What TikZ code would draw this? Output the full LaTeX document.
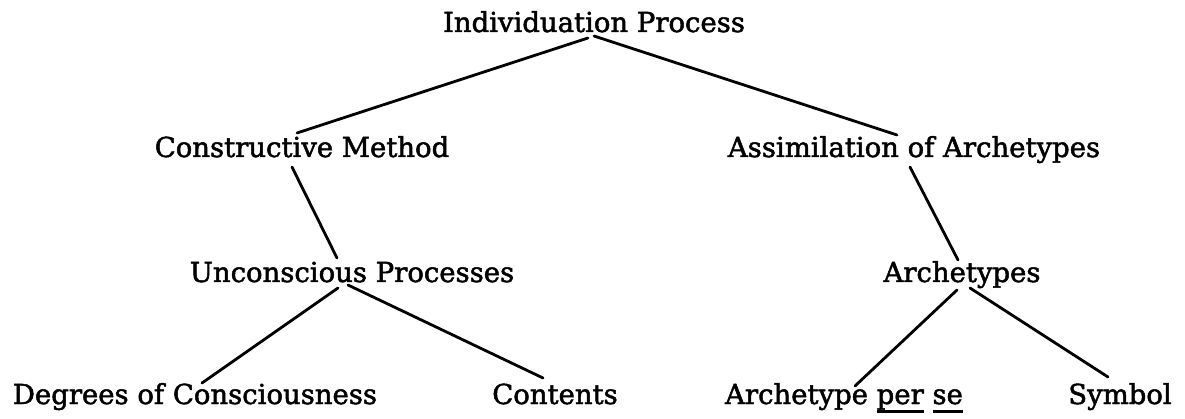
\documentclass[tikz,border=0pt]{standalone}
\usepackage{fontspec}
\setmainfont{DejaVu Serif}
\newfontfamily\lblfont{DejaVu Serif}[FakeBold=1.8]
\newcommand\ulword[1]{\setbox0\hbox{#1}\rlap{\rule[-8.6pt]{\wd0}{2.6pt}}\box0\relax}
\begin{document}
\begin{tikzpicture}[x=1pt,y=-1pt,
  lbl/.style={anchor=base,inner sep=0pt,font=\lblfont\fontsize{27.5}{32}\selectfont},
  conn/.style={line width=2.8pt,line cap=round}]
\useasboundingbox (0,0) rectangle (1185,419);
\node[lbl] (ind) at (594,32) {Individuation Process};
\node[lbl] (con) at (302,157) {Constructive Method};
\node[lbl] (ass) at (914,157) {Assimilation of Archetypes};
\node[lbl] (unc) at (352,282) {Unconscious Processes};
\node[lbl] (arc) at (962,282) {Archetypes};
\node[lbl] (deg) at (195,404) {Degrees of Consciousness};
\node[lbl] (cnt) at (555,404) {Contents};
\node[lbl] (aps) at (844,404) {Archetype \ulword{per} \ulword{se}};
\node[lbl] (sym) at (1120,404) {Symbol};
\draw[conn] ([shift={(-6,6)}]ind.base) -- ([shift={(-5,-24)}]con.base);
\draw[conn] ([shift={(0,4)}]ind.base) -- ([shift={(-17,-22)}]ass.base);
\draw[conn] ([shift={(-10,10)}]con.base) -- ([shift={(-15,-24)}]unc.base);
\draw[conn] ([shift={(-4,10)}]ass.base) -- ([shift={(-4,-22)}]arc.base);
\draw[conn] ([shift={(-14,6)}]unc.base) -- ([shift={(7,-21)}]deg.base);
\draw[conn] ([shift={(-4,3)}]unc.base) -- ([shift={(-12,-26)}]cnt.base);
\draw[conn] ([shift={(-5,8)}]arc.base) -- ([shift={(11,-18)}]aps.base);
\draw[conn] ([shift={(8,6)}]arc.base) -- ([shift={(-12,-27)}]sym.base);
\end{tikzpicture}
\end{document}
